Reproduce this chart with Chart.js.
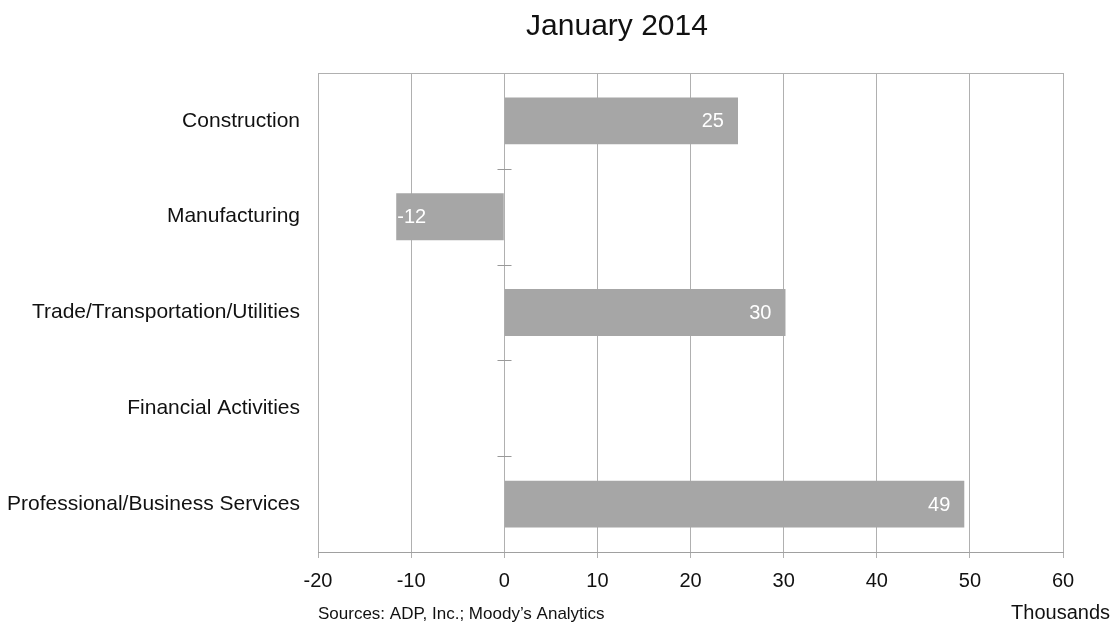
<!DOCTYPE html>
<html>
<head>
<meta charset="utf-8">
<script src="https://cdn.jsdelivr.net/npm/chart.js@4"></script>
<style>
  html, body { margin: 0; padding: 0; background: #fff; }
  #wrap { width: 1116px; height: 625px; }
</style>
</head>
<body>
<div id="wrap"><canvas id="jobs"></canvas></div>
<script>
// ADP employment change by industry, January 2014 (thousands)
const industries = ["Construction", "Manufacturing", "Trade/Transportation/Utilities", "Financial Activities", "Professional/Business Services"];
const changes = [25.1, -11.6, 30.2, 0, 49.4];
const xTicks = [-20, -10, 0, 10, 20, 30, 40, 50, 60];

const FONT = "'Liberation Sans', Arial, sans-serif";
const GRID = "#b0b0b0";

// value labels, category tick marks on the zero line, frame and notes
const extras = {
  id: "extras",
  afterDatasetsDraw(chart) {
    const ctx = chart.ctx;
    const area = chart.chartArea;
    const x = chart.scales.x;
    const y = chart.scales.y;
    ctx.save();

    // top frame line
    ctx.strokeStyle = GRID;
    ctx.lineWidth = 1;
    ctx.beginPath();
    ctx.moveTo(area.left, area.top + 0.5);
    ctx.lineTo(area.right, area.top + 0.5);
    ctx.stroke();

    // category separators on the vertical axis at zero
    const x0 = Math.round(x.getPixelForValue(0)) + 0.5;
    ctx.strokeStyle = "#999";
    for (let i = 0; i < industries.length - 1; i++) {
      const yy = Math.round(y.getPixelForValue(i + 0.5)) + 0.5;
      ctx.beginPath();
      ctx.moveTo(x0 - 7, yy);
      ctx.lineTo(x0 + 7, yy);
      ctx.stroke();
    }

    // value labels inside bars
    ctx.fillStyle = "#ffffff";
    ctx.font = "20px " + FONT;
    ctx.textBaseline = "middle";
    chart.getDatasetMeta(0).data.forEach((bar, i) => {
      const v = changes[i];
      if (!v) return;
      if (v > 0) {
        ctx.textAlign = "right";
        ctx.fillText(String(Math.round(v)), bar.x - 14, bar.y + 1);
      } else {
        ctx.textAlign = "left";
        ctx.fillText(String(Math.round(v)), bar.x + 1, bar.y + 1);
      }
    });

    // title and notes
    ctx.fillStyle = "#111";
    ctx.textAlign = "center";
    ctx.textBaseline = "alphabetic";
    ctx.font = "30px " + FONT;
    ctx.fillText("January 2014", 617, 35);

    ctx.textAlign = "left";
    ctx.font = "17px " + FONT;
    ctx.fillText("Sources: ADP, Inc.; Moody\u2019s Analytics", area.left, 619);

    ctx.textAlign = "right";
    ctx.font = "20px " + FONT;
    ctx.fillText("Thousands", 1110, 619);
    ctx.restore();
  }
};

new Chart(document.getElementById("jobs"), {
  type: "bar",
  data: {
    labels: industries,
    datasets: [
      {
        data: changes,
        backgroundColor: "#a6a6a6",
        borderWidth: 0,
        barPercentage: 0.49,
        categoryPercentage: 1,
      },
    ],
  },
  options: {
    indexAxis: "y",
    responsive: true,
    maintainAspectRatio: false,
    animation: false,
    layout: { padding: { top: 73, right: 53, bottom: 0, left: 0 } },
    plugins: {
      legend: { display: false },
      tooltip: { enabled: false },
    },
    scales: {
      x: {
        min: -20,
        max: 60,
        afterBuildTicks: (scale) => {
          scale.ticks = xTicks.map((v) => ({ value: v }));
        },
        afterFit: (scale) => {
          scale.height = 73;
        },
        grid: { color: GRID, lineWidth: 1, tickLength: 6 },
        border: { color: "#a0a0a0", width: 1 },
        ticks: {
          color: "#111",
          font: { family: FONT, size: 20 },
          padding: 11,
          maxRotation: 0,
        },
      },
      y: {
        afterFit: (scale) => {
          scale.width = 318;
        },
        grid: { display: false, drawTicks: false },
        border: { display: false },
        ticks: {
          color: "#111",
          font: { family: FONT, size: 21 },
          padding: 18,
        },
      },
    },
  },
  plugins: [extras],
});
</script>
</body>
</html>
